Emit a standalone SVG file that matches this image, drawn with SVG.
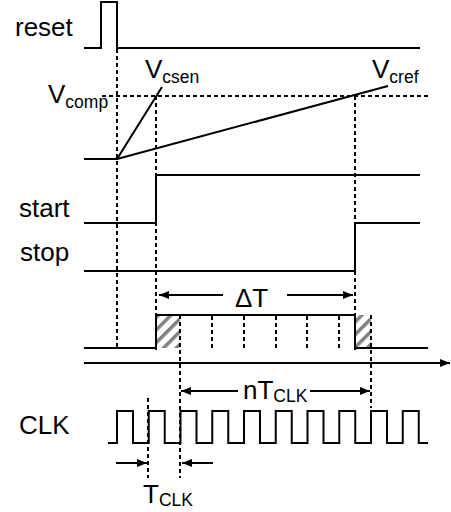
<svg xmlns="http://www.w3.org/2000/svg" width="451" height="512" viewBox="0 0 451 512">
<style>
.t{font-family:"Liberation Sans",Arial,sans-serif;font-size:26px;fill:#000}
.s{font-size:17.5px}
.w{fill:none;stroke:#000;stroke-width:2}
.d{fill:none;stroke:#000;stroke-width:2;stroke-dasharray:4 3}
.a{fill:none;stroke:#000;stroke-width:2}
</style>
<defs>
<marker id="ah" viewBox="0 0 10 10" refX="10" refY="5" markerWidth="10" markerHeight="10" markerUnits="userSpaceOnUse" orient="auto">
<path d="M0,1 L10,5 L0,9 Z" fill="#000"/>
</marker>
<pattern id="hatch" width="9" height="9" patternUnits="userSpaceOnUse" patternTransform="rotate(45)">
<rect width="9" height="9" fill="#fff"/>
<rect x="0" y="0" width="3.5" height="9" fill="#808080"/>
</pattern>
</defs>
<rect width="451" height="512" fill="#fff"/>

<g id="hatches">
<rect x="157" y="315" width="23" height="33" fill="url(#hatch)"/>
<rect x="356" y="315" width="15" height="33" fill="url(#hatch)"/>
</g>

<g id="connectors">
<path class="d" d="M117,49 V350"/>
<path class="d" d="M102,96 H428"/>
<path class="d" d="M156,96 V350"/>
<path class="d" d="M355,96 V350"/>
<path class="d" d="M180,315 V478"/>
<path class="d" d="M371,315 V408"/>
<path class="d" d="M148,398 V478"/>
<path class="d" d="M212,316 V348"/>
<path class="d" d="M244,316 V348"/>
<path class="d" d="M276,316 V348"/>
<path class="d" d="M307,316 V348"/>
<path class="d" d="M339,316 V348"/>
<path class="a" d="M223,295 H159" marker-end="url(#ah)"/>
<path class="a" d="M287,295 H353" marker-end="url(#ah)"/>
<path class="a" d="M84,363 H450" marker-end="url(#ah)"/>
<path class="a" d="M238,391 H181" marker-end="url(#ah)"/>
<path class="a" d="M310,391 H370" marker-end="url(#ah)"/>
<path class="a" d="M116,463 H147" marker-end="url(#ah)"/>
<path class="a" d="M213,463 H182" marker-end="url(#ah)"/>
</g>

<g id="reset">
<text class="t" x="15" y="36">reset</text>
<path class="w" d="M84,48 H101 V2 H117 V48 H420"/>
</g>
<g id="vramp">
<path class="w" d="M84,159 H117 L162,87 M117,159 L388,86"/>
<text class="t" x="48" y="103">V<tspan class="s" dy="5">comp</tspan></text>
<text class="t" x="145" y="78">V<tspan class="s" dy="5">csen</tspan></text>
<text class="t" x="372" y="78">V<tspan class="s" dy="5">cref</tspan></text>
</g>
<g id="start">
<text class="t" x="19" y="217">start</text>
<path class="w" d="M84,223 H156 V175 H420"/>
</g>
<g id="stop">
<text class="t" x="20" y="261">stop</text>
<path class="w" d="M84,271 H355 V223 H420"/>
</g>
<g id="window">
<path class="w" d="M84,348 H156 V315 H355 V348 H428"/>
<text class="t" x="235" y="307">ΔT</text>
</g>
<g id="clk">
<text class="t" x="19" y="434">CLK</text>
<path class="w" d="M108,443 H117 V411 H133 V443 H148.75 V411 H164.75 V443 H180.5 V411 H196.5 V443 H212.25 V411 H228.25 V443 H244 V411 H260 V443 H275.75 V411 H291.75 V443 H307.5 V411 H323.5 V443 H339.25 V411 H355.25 V443 H371 V411 H387 V443 H402.75 V411 H418.75 V443 H428"/>
<text class="t" x="243" y="399">nT<tspan class="s" dy="3">CLK</tspan></text>
<text class="t" x="143" y="503">T<tspan class="s" dy="3">CLK</tspan></text>
</g>
</svg>
